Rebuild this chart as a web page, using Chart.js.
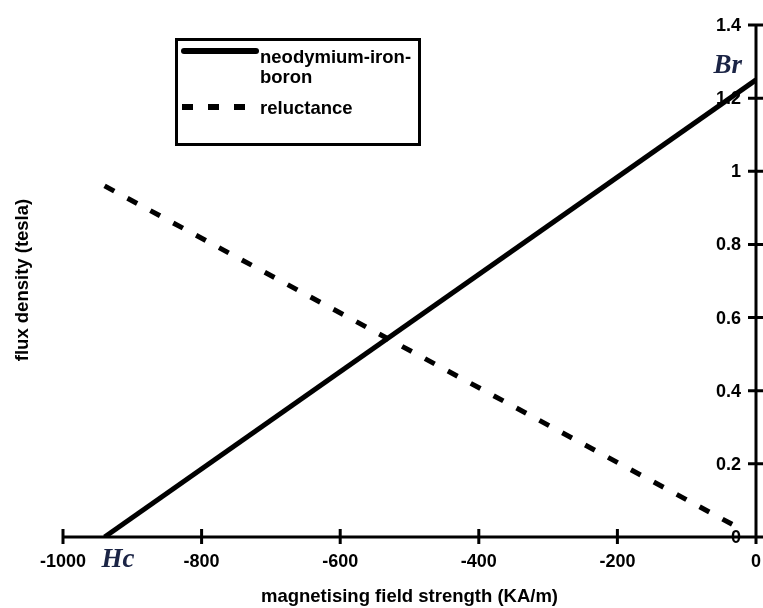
<!DOCTYPE html>
<html><head><meta charset="utf-8">
<script src="https://cdn.jsdelivr.net/npm/chart.js@4.4.1/dist/chart.umd.min.js"></script>
<style>html,body{margin:0;padding:0;background:#fff}#wrap{width:763px;height:608px}</style>
</head><body><div id="wrap"><canvas id="c" width="763" height="608"></canvas></div>
<script>
const seriesNames = ['neodymium-iron-boron', 'reluctance'];
const fieldNdFeB = [-940, 0];
const fluxNdFeB = [0, 1.25];
const fieldReluctance = [-940, -20];
const fluxReluctance = [0.96, 0.02];
const xTicks = [-1000, -800, -600, -400, -200, 0];
const yTicks = [0, 0.2, 0.4, 0.6, 0.8, 1, 1.2, 1.4];
const xTitle = 'magnetising field strength (KA/m)';
const yTitle = 'flux density (tesla)';
const pointLabels = ['Br', 'Hc'];

const FONT = 'Liberation Sans, Arial, sans-serif';
const toPts = (xs, ys) => xs.map((v, i) => ({x: v, y: ys[i]}));

const decor = {
  id: 'decor',
  beforeDatasetsDraw(chart) {
    const {ctx, scales: {x, y}} = chart;
    const x0 = x.getPixelForValue(0), y0 = y.getPixelForValue(0);
    ctx.save();
    ctx.strokeStyle = '#000'; ctx.lineWidth = 3; ctx.lineCap = 'butt';
    ctx.beginPath();
    ctx.moveTo(x.getPixelForValue(xTicks[0]), y0); ctx.lineTo(x0 + 1.5, y0);
    ctx.moveTo(x0, y.getPixelForValue(yTicks[yTicks.length - 1]) - 1.5); ctx.lineTo(x0, y0 + 3);
    xTicks.forEach(v => { const px = x.getPixelForValue(v); ctx.moveTo(px, y0 - 8); ctx.lineTo(px, y0 + 7); });
    yTicks.forEach(v => { const py = y.getPixelForValue(v); ctx.moveTo(x0 - 8, py); ctx.lineTo(x0 + 7, py); });
    ctx.stroke();
    ctx.fillStyle = '#000';
    ctx.font = 'bold 18px ' + FONT;
    ctx.textAlign = 'right'; ctx.textBaseline = 'middle';
    yTicks.forEach(v => ctx.fillText(String(v), x0 - 15, y.getPixelForValue(v) + 1));
    ctx.textAlign = 'center';
    xTicks.forEach(v => ctx.fillText(String(v), x.getPixelForValue(v), y0 + 25));
    ctx.restore();
  },
  afterDraw(chart) {
    const {ctx, scales: {x, y}} = chart;
    const x0 = x.getPixelForValue(0), y0 = y.getPixelForValue(0);
    ctx.save();
    ctx.fillStyle = '#000';
    ctx.font = 'bold 18.5px ' + FONT;
    ctx.translate(23, 280); ctx.rotate(-Math.PI / 2);
    ctx.textAlign = 'center'; ctx.textBaseline = 'middle';
    ctx.fillText(yTitle, 0, 0);
    ctx.restore();

    // legend
    ctx.save();
    ctx.strokeStyle = '#000'; ctx.lineWidth = 3;
    ctx.strokeRect(176.5, 39.5, 243, 105);
    ctx.font = 'bold 18.5px ' + FONT; ctx.fillStyle = '#000';
    ctx.textAlign = 'left'; ctx.textBaseline = 'alphabetic';
    const wrap = (txt, maxW) => {
      const parts = txt.split(/(?<=-)/); const lines = []; let cur = '';
      parts.forEach(p => { if (cur && ctx.measureText(cur + p).width > maxW) { lines.push(cur); cur = p; } else cur += p; });
      if (cur) lines.push(cur); return lines;
    };
    const ds = chart.data.datasets;
    ctx.lineWidth = ds[0].borderWidth + 1; ctx.lineCap = 'round';
    ctx.beginPath(); ctx.moveTo(184, 51); ctx.lineTo(256, 51); ctx.stroke();
    wrap(ds[0].label, 156).forEach((l, i) => ctx.fillText(l, 260, 63 + i * 20));
    ctx.lineWidth = ds[1].borderWidth + 1; ctx.lineCap = 'butt';
    ctx.setLineDash(ds[1].borderDash);
    ctx.beginPath(); ctx.moveTo(182, 107); ctx.lineTo(257, 107); ctx.stroke();
    ctx.setLineDash([]);
    ctx.fillText(ds[1].label, 260, 114);
    ctx.restore();

    // Br and Hc
    ctx.save();
    ctx.fillStyle = '#1b2445';
    ctx.font = 'italic bold 27px Liberation Serif, Times New Roman, serif';
    ctx.textAlign = 'right'; ctx.textBaseline = 'alphabetic';
    ctx.fillText(pointLabels[0], x0 - 14, y.getPixelForValue(fluxNdFeB[1]) - 7);
    ctx.textAlign = 'left';
    ctx.fillText(pointLabels[1], x.getPixelForValue(fieldNdFeB[0]) - 3, y0 + 30);
    ctx.restore();
  }
};

new Chart(document.getElementById('c'), {
  type: 'scatter',
  data: {
    datasets: [
      {label: seriesNames[0], data: toPts(fieldNdFeB, fluxNdFeB), showLine: true, borderColor: '#000', backgroundColor: '#000', borderWidth: 5, pointRadius: 0, fill: false},
      {label: seriesNames[1], data: toPts(fieldReluctance, fluxReluctance), showLine: true, borderColor: '#000', backgroundColor: '#000', borderWidth: 5, borderDash: [11, 15], pointRadius: 0, fill: false}
    ]
  },
  options: {
    responsive: false, animation: false,
    layout: {padding: {left: 63, top: 25, right: 7, bottom: 0}},
    plugins: {legend: {display: false}, tooltip: {enabled: false}},
    scales: {
      x: {
        type: 'linear', min: -1000, max: 0,
        afterBuildTicks: s => { s.ticks = xTicks.map(v => ({value: v})); },
        afterFit: s => { s.height = 71; },
        grid: {display: false, drawTicks: false}, border: {display: false},
        ticks: {display: false},
        title: {display: true, text: xTitle, color: '#000', font: {family: FONT, weight: 'bold', size: 18.5}, padding: {top: 6, bottom: 0}}
      },
      y: {
        type: 'linear', position: 'right', min: 0, max: 1.4, display: false,
        afterBuildTicks: s => { s.ticks = yTicks.map(v => ({value: v})); }
      }
    }
  },
  plugins: [decor]
});
</script>
</body></html>
